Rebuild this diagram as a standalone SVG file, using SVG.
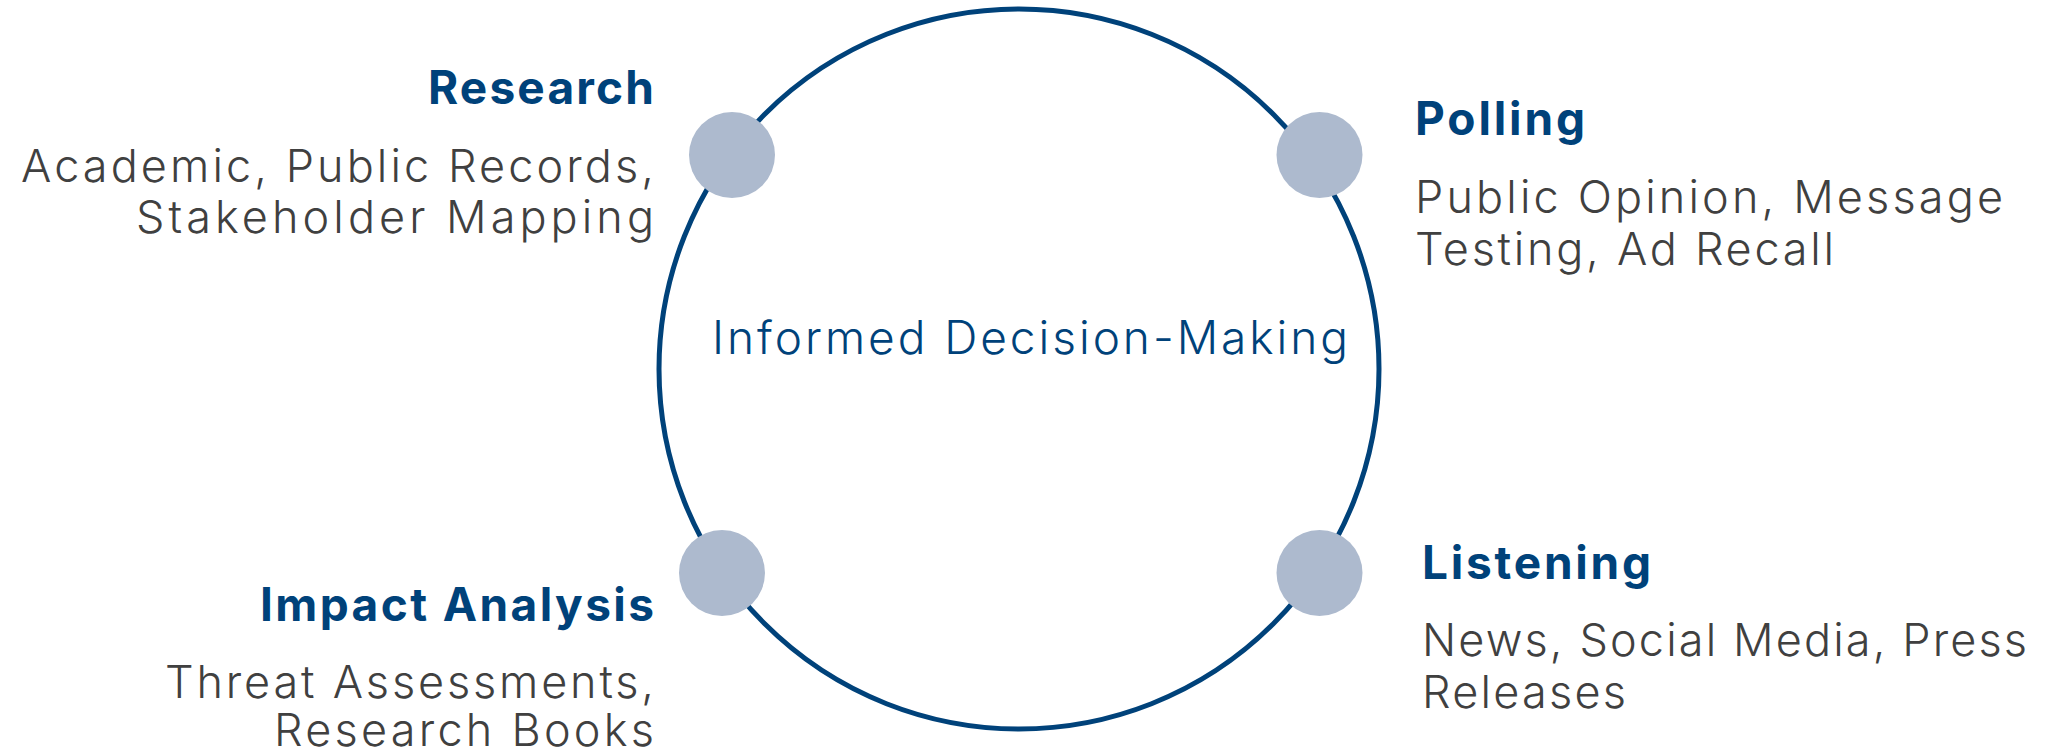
<svg xmlns="http://www.w3.org/2000/svg" width="2051" height="754" viewBox="0 0 2051 754">
  <style>
    .ring { fill: none; stroke: #00427A; stroke-width: 5; }
    .dot { fill: #ADBACE; }
    .head { font-family: Inter, "Open Sans", "Liberation Sans", sans-serif; font-weight: 700; font-size: 46px; fill: #00427A; }
    .body { font-family: Inter, "Open Sans", "Liberation Sans", sans-serif; font-weight: 300; font-size: 45px; fill: #404040; }
    .center { font-family: Inter, "Open Sans", "Liberation Sans", sans-serif; font-weight: 300; font-size: 46px; fill: #00427A; }
    .r { text-anchor: end; }
  </style>

  <!-- cycle ring -->
  <g id="connectors">
    <circle class="ring" cx="1019" cy="369" r="360"/>
  </g>

  <g id="center-label">
    <text class="center" x="712" y="354" textLength="636" lengthAdjust="spacing">Informed Decision-Making</text>
  </g>

  <g id="node-research">
    <circle class="dot" cx="732" cy="155" r="43"/>
    <text class="head r" x="654" y="104" textLength="226" lengthAdjust="spacing">Research</text>
    <text class="body r" x="654" y="182" textLength="633" lengthAdjust="spacing">Academic, Public Records,</text>
    <text class="body r" x="654" y="233" textLength="518" lengthAdjust="spacing">Stakeholder Mapping</text>
  </g>

  <g id="node-polling">
    <circle class="dot" cx="1319.5" cy="155" r="43"/>
    <text class="head" x="1415" y="135" textLength="170" lengthAdjust="spacing">Polling</text>
    <text class="body" x="1415" y="213" textLength="588" lengthAdjust="spacing">Public Opinion, Message</text>
    <text class="body" x="1415" y="265" textLength="419" lengthAdjust="spacing">Testing, Ad Recall</text>
  </g>

  <g id="node-impact">
    <circle class="dot" cx="722" cy="573" r="43"/>
    <text class="head r" x="654" y="621" textLength="394" lengthAdjust="spacing">Impact Analysis</text>
    <text class="body r" x="654" y="698" textLength="489" lengthAdjust="spacing">Threat Assessments,</text>
    <text class="body r" x="654" y="746" textLength="380" lengthAdjust="spacing">Research Books</text>
  </g>

  <g id="node-listening">
    <circle class="dot" cx="1319.5" cy="573" r="43"/>
    <text class="head" x="1422" y="579" textLength="229" lengthAdjust="spacing">Listening</text>
    <text class="body" x="1422" y="656" textLength="605" lengthAdjust="spacing">News, Social Media, Press</text>
    <text class="body" x="1422" y="708" textLength="204" lengthAdjust="spacing">Releases</text>
  </g>
</svg>
